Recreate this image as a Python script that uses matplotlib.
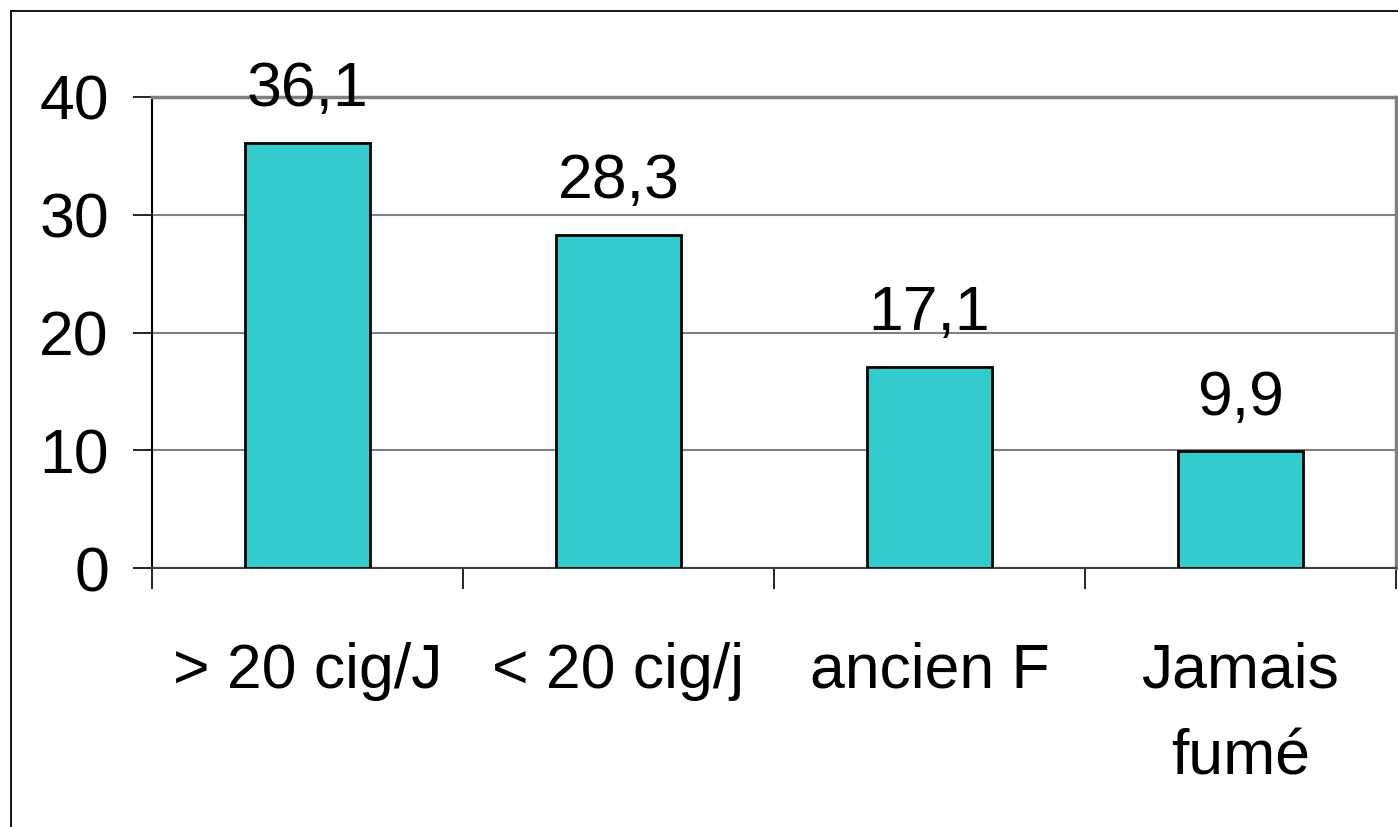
import numpy as np
import matplotlib
matplotlib.use('Agg')
import matplotlib.pyplot as plt
from matplotlib.lines import Line2D

categories = ['> 20 cig/J', '< 20 cig/j', 'ancien F', 'Jamais\nfumé']
values = [36.1, 28.3, 17.1, 9.9]
value_labels = ['36,1', '28,3', '17,1', '9,9']
yticks = [0, 10, 20, 30, 40]

plt.rcParams['font.family'] = ['Liberation Sans', 'DejaVu Sans']

fig = plt.figure(figsize=(13.98, 8.27), dpi=100)
ax = fig.add_axes([152 / 1398, 1 - 568 / 827, (1396 - 152) / 1398, (568 - 97) / 827])

x = np.arange(len(categories))
bars = ax.bar(x, values, width=0.405, color='#33CCCC', edgecolor='black', linewidth=2, zorder=3)
ax.bar_label(bars, labels=value_labels, padding=17, fontsize=45)

ax.set_xlim(-0.5, len(categories) - 0.5)
ax.set_ylim(0, 40)
ax.set_yticks(yticks)
ax.set_yticklabels([str(t) for t in yticks])
ax.tick_params(axis='y', length=14, width=1.2, pad=17, labelsize=45, direction='out')

# category boundaries as major ticks, labels on minor ticks
ax.set_xticks(np.arange(-0.5, len(categories), 1.0))
ax.set_xticklabels([])
ax.set_xticks(x, minor=True)
ax.set_xticklabels(categories, minor=True, fontsize=45, linespacing=1.6)
ax.tick_params(axis='x', which='major', length=15, width=1.2, direction='out')
ax.tick_params(axis='x', which='minor', length=0, pad=53)

ax.yaxis.grid(True, color='#808080', linewidth=1.5, zorder=0)
ax.set_axisbelow(True)
ax.spines['left'].set_color('black')
ax.spines['left'].set_linewidth(1.5)
ax.spines['bottom'].set_color('#404040')
ax.spines['bottom'].set_linewidth(1.5)
for s in ['top', 'right']:
    ax.spines[s].set_color('#808080')
    ax.spines[s].set_linewidth(2.5)

# outer frame (top and left visible)
fx = 11 / 1398
fy = 1 - 11 / 827
fig.add_artist(Line2D([fx, 1], [fy, fy], color='black', linewidth=1.3))
fig.add_artist(Line2D([fx, fx], [0, fy], color='black', linewidth=1.3))

fig.savefig('out.png', dpi=100)
